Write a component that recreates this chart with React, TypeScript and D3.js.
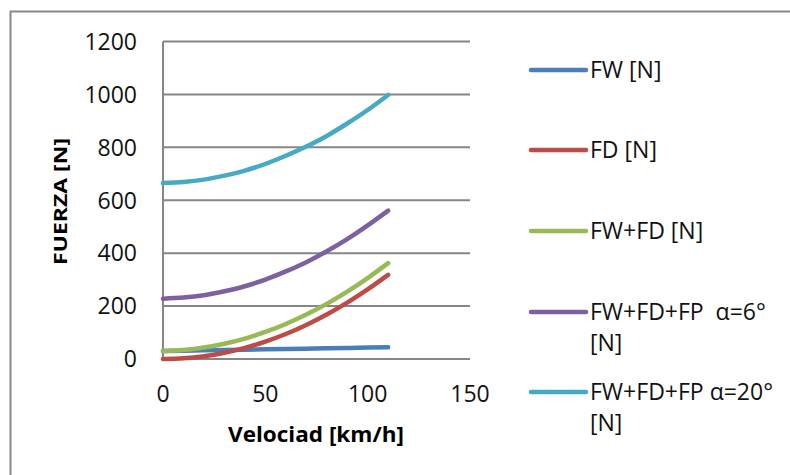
import * as d3 from 'd3'
import { useRef, useEffect } from 'react'

// velocidad [km/h]
const speeds = [0, 10, 20, 30, 40, 50, 60, 70, 80, 90, 100, 110];
const fw = [30, 31.3, 32.6, 33.9, 35.2, 36.5, 37.8, 39.1, 40.4, 41.7, 43, 44.5];
const fd = [0, 2.6, 10.5, 23.7, 42, 65.7, 94.6, 128.8, 168, 213, 263, 318];
const fwfd = [30, 33.9, 43.1, 57.6, 77.2, 102.2, 132.4, 167.9, 208.4, 254.7, 306, 362.5];
const fp6 = [228, 232, 241, 256, 275, 300, 331, 366, 407, 453, 505, 561];
const fp20 = [665, 669, 678, 693, 712, 737, 768, 803, 843, 890, 941, 998];

const seriesNames = [['FW [N]'], ['FD [N]'], ['FW+FD [N]'], ['FW+FD+FP  α=6°', '[N]'], ['FW+FD+FP α=20°', '[N]']];
const seriesValues = [fw, fd, fwfd, fp6, fp20];
const colors = ['#4A7EBB', '#BE4B48', '#98B954', '#7D60A0', '#46AAC5'];

const xTicks = [0, 50, 100, 150];
const yTicks = [0, 200, 400, 600, 800, 1000, 1200];

function App() {
    const svgRef = useRef(null);

    useEffect(() => {
        const svg = d3.select(svgRef.current);
        svg.selectAll('*').remove();
        const font = '"Open Sans", "Liberation Sans", sans-serif';

        // chart border
        svg.append('rect')
            .attr('x', 10.5).attr('y', 11.5)
            .attr('width', 800).attr('height', 500)
            .attr('fill', 'white')
            .attr('stroke', '#888').attr('stroke-width', 2);

        const scaleX = d3.scaleLinear().domain([0, 150]).range([163, 470]);
        const scaleY = d3.scaleLinear().domain([0, 1200]).range([359, 41.5]);

        const gGrid = svg.append('g');
        gGrid.selectAll('line')
            .data(yTicks)
            .join('line')
            .attr('x1', scaleX(0)).attr('x2', scaleX(150))
            .attr('y1', d => scaleY(d)).attr('y2', d => scaleY(d))
            .attr('stroke', '#868686').attr('stroke-width', 2);
        svg.append('line')
            .attr('x1', scaleX(0)).attr('x2', scaleX(0))
            .attr('y1', scaleY(1200)).attr('y2', scaleY(0))
            .attr('stroke', '#868686').attr('stroke-width', 2);

        svg.append('g').selectAll('text')
            .data(yTicks)
            .join('text')
            .attr('x', 137).attr('y', d => scaleY(d))
            .attr('dy', '0.36em')
            .attr('text-anchor', 'end')
            .attr('font-family', font).attr('font-size', 23)
            .attr('fill', '#111')
            .text(d => d);

        svg.append('g').selectAll('text')
            .data(xTicks)
            .join('text')
            .attr('x', d => scaleX(d)).attr('y', 402)
            .attr('text-anchor', 'middle')
            .attr('font-family', font).attr('font-size', 23)
            .attr('fill', '#111')
            .text(d => d);

        svg.append('text')
            .attr('x', 228).attr('y', 442)
            .attr('textLength', 176).attr('lengthAdjust', 'spacingAndGlyphs')
            .attr('font-family', font).attr('font-size', 21).attr('font-weight', 'bold')
            .text('Velociad [km/h]');

        svg.append('text')
            .attr('transform', 'translate(67, 265) rotate(-90)')
            .attr('textLength', 127).attr('lengthAdjust', 'spacingAndGlyphs')
            .attr('font-family', font).attr('font-size', 17).attr('font-weight', 'bold')
            .text('FUERZA [N]');

        const line = d3.line()
            .x((d, i) => scaleX(speeds[i]))
            .y(d => scaleY(d))
            .curve(d3.curveMonotoneX);

        svg.append('g').selectAll('path')
            .data(seriesValues)
            .join('path')
            .attr('d', d => line(d))
            .attr('fill', 'none')
            .attr('stroke', (d, i) => colors[i])
            .attr('stroke-width', 4.5)
            .attr('stroke-linecap', 'round');

        // legend
        const legendY = [70, 150, 231, 312, 392];
        const gLegend = svg.append('g');
        seriesNames.forEach((name, i) => {
            gLegend.append('line')
                .attr('x1', 531).attr('x2', 586)
                .attr('y1', legendY[i]).attr('y2', legendY[i])
                .attr('stroke', colors[i]).attr('stroke-width', 4.5)
                .attr('stroke-linecap', 'round');
            name.forEach((s, j) => {
                gLegend.append('text')
                    .attr('x', 590).attr('y', legendY[i] + 8 + j * 31)
                    .attr('font-family', font).attr('font-size', 23)
                    .attr('fill', '#111')
                    .attr('xml:space', 'preserve')
                    .text(s);
            });
        });
    }, []);

    return (
        <svg ref={svgRef} width={790} height={475}
            style={{ position: 'absolute', left: 0, top: 0, background: 'white' }}></svg>
    )
}

export default App;
